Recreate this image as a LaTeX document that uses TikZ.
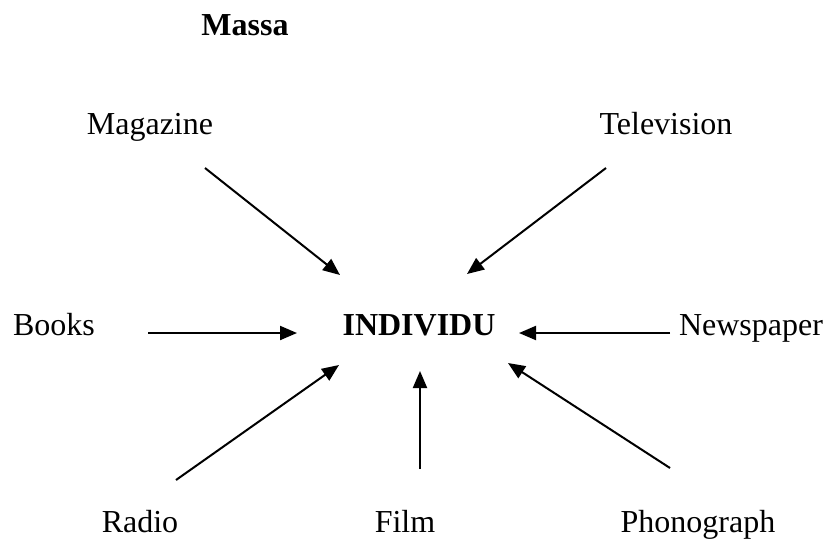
\documentclass[tikz,border=0pt]{standalone}
\usepackage{fontspec}
\setmainfont{Liberation Serif}
\usetikzlibrary{arrows.meta}
\begin{document}
\begin{tikzpicture}[x=1pt,y=-1pt,
  lbl/.style={inner sep=0pt,anchor=base,font=\fontsize{32}{36}\selectfont},
  conn/.style={line width=2pt,-{Triangle[length=17pt,width=14pt]}}]
\useasboundingbox (0,0) rectangle (832,539);
\node[lbl] (massa) at (245,35) {\bfseries Massa};
\node[lbl] (mag) at (150,134) {Magazine};
\node[lbl] (tv) at (666,134) {Television};
\node[lbl] (books) at (54,335) {Books};
\node[lbl] (ind) at (419,335) {\bfseries INDIVIDU};
\node[lbl] (news) at (751,335) {Newspaper};
\node[lbl] (radio) at (140,532) {Radio};
\node[lbl] (film) at (405,532) {Film};
\node[lbl] (phono) at (698,532) {Phonograph};
% arrow end points
\coordinate (magS) at (205,168); \coordinate (magE) at (340,275);
\coordinate (tvS) at (606,168);  \coordinate (tvE) at (467,274);
\coordinate (bkS) at (148,333);  \coordinate (bkE) at (297,333);
\coordinate (nwS) at (670,333);  \coordinate (nwE) at (519,333);
\coordinate (raS) at (176,480);  \coordinate (raE) at (339,365);
\coordinate (fiS) at (420,469);  \coordinate (fiE) at (420,371);
\coordinate (phS) at (670,468);  \coordinate (phE) at (508,363);
\draw[conn] (magS) -- (magE);
\draw[conn] (tvS) -- (tvE);
\draw[conn] (bkS) -- (bkE);
\draw[conn] (nwS) -- (nwE);
\draw[conn] (raS) -- (raE);
\draw[conn] (fiS) -- (fiE);
\draw[conn] (phS) -- (phE);
\end{tikzpicture}
\end{document}
